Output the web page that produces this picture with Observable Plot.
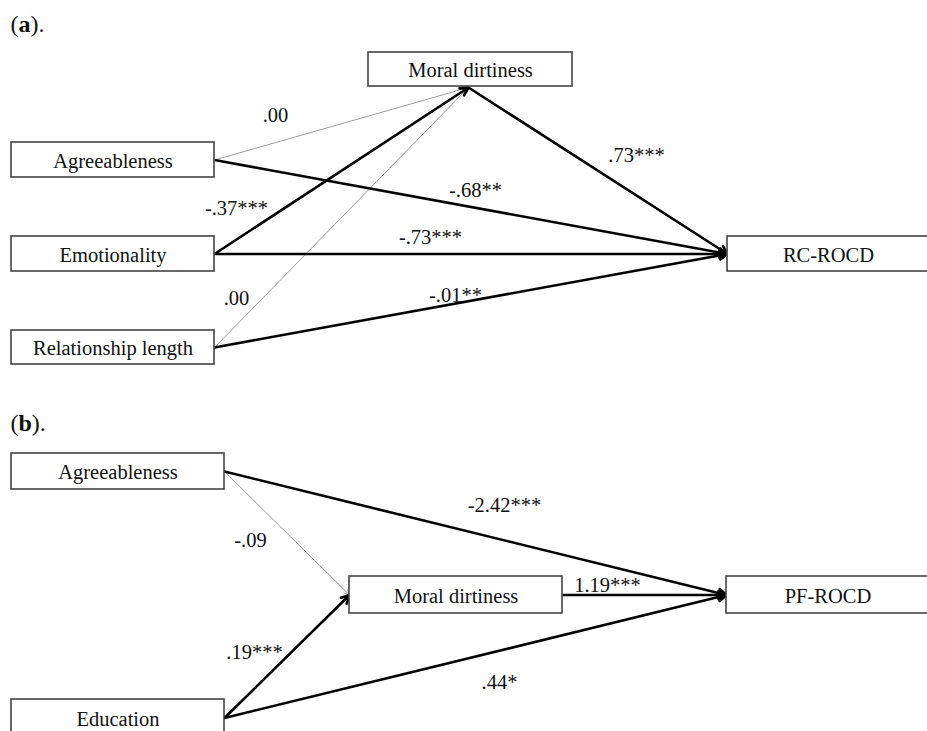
<!DOCTYPE html>
<html><head><meta charset="utf-8">
<script src="https://cdn.jsdelivr.net/npm/d3@7"></script>
<script src="https://cdn.jsdelivr.net/npm/@observablehq/plot@0.6"></script>
<style>html,body{margin:0;padding:0;background:#fff;overflow:hidden}</style>
</head><body><div id="chart"></div>
<script>
// ---- data ----
const panelTitles = ["(a).", "(b)."];
const nodeIds    = ["a_agr","a_emo","a_rel","a_md","a_rc","b_agr","b_edu","b_md","b_pf"];
const nodeLabels = ["Agreeableness","Emotionality","Relationship length","Moral dirtiness","RC-ROCD",
                    "Agreeableness","Education","Moral dirtiness","PF-ROCD"];
const edgeFrom = ["a_agr","a_agr","a_emo","a_emo","a_rel","a_rel","a_md","b_agr","b_agr","b_edu","b_edu","b_md"];
const edgeTo   = ["a_md","a_rc","a_md","a_rc","a_md","a_rc","a_rc","b_md","b_pf","b_md","b_pf","b_pf"];
const edgeCoef = [".00","-.68**","-.37***","-.73***",".00","-.01**",".73***","-.09","-2.42***",".19***",".44*","1.19***"];
const edgeSignificant = [false,true,true,true,false,true,true,false,true,true,true,true];

// ---- layout (diagram coordinates) ----
const nodeBox = { // [x1, y1, x2, y2]
  a_agr:[11,142,214,177], a_emo:[11,236,214,271], a_rel:[11,330,214,364],
  a_md:[368,52,572,86],   a_rc:[727,236,929,271],
  b_agr:[11,453,224,489], b_edu:[11,699,224,736],
  b_md:[349,576,562,613], b_pf:[726,576,929,613]
};
const topNodes = ["a_md"]; // edges attach to the bottom-centre of these
const titlePos = [[10,24],[10,423]];
const labelPos = [[275,115],[475,190],[236,208],[430,237],[236,298],[455,295],[636,155],
                  [250,540],[504,505],[254,652],[499,682],[607,585]];

const nodes = nodeIds.map((id,i)=>{const b=nodeBox[id];return {id,label:nodeLabels[i],x1:b[0],y1:b[1],x2:b[2],y2:b[3]};});
const byId = Object.fromEntries(nodes.map(n=>[n.id,n]));
function srcPt(n){ return topNodes.includes(n.id) ? [(n.x1+n.x2)/2-2, n.y2+1] : [n.x2, (n.y1+n.y2)/2]; }
function dstPt(n){ return topNodes.includes(n.id) ? [(n.x1+n.x2)/2-2, n.y2+1] : [n.x1, (n.y1+n.y2)/2]; }
const edges = edgeFrom.map((f,i)=>{
  const s=srcPt(byId[f]), t=dstPt(byId[edgeTo[i]]);
  return {x1:s[0],y1:s[1],x2:t[0],y2:t[1],coef:edgeCoef[i],sig:edgeSignificant[i],lx:labelPos[i][0],ly:labelPos[i][1]};
});
const titles = panelTitles.map((t,i)=>({t,x:titlePos[i][0],y:titlePos[i][1]}));

const font = "'Liberation Serif','Times New Roman',serif";
const svg = Plot.plot({
  width:927, height:731, margin:0,
  x:{domain:[0,927], range:[0,927], axis:null},
  y:{domain:[0,731], range:[0,731], axis:null},
  style:{background:"#fff", fontFamily:font},
  marks:[
    Plot.arrow(edges.filter(d=>!d.sig), {x1:"x1",y1:"y1",x2:"x2",y2:"y2", stroke:"#9a9a9a", strokeWidth:1, headLength:8, headAngle:50}),
    Plot.arrow(edges.filter(d=>d.sig), {x1:"x1",y1:"y1",x2:"x2",y2:"y2", stroke:"#000", strokeWidth:2.6, headLength:5.2, headAngle:55}),
    Plot.rect(nodes, {x1:"x1",x2:"x2",y1:"y1",y2:"y2", fill:"#fff", stroke:"#444", strokeWidth:1.6}),
    Plot.text(nodes, {x:d=>(d.x1+d.x2)/2, y:d=>(d.y1+d.y2)/2+1, text:"label", fontSize:20.5, fill:"#111", fontFamily:font}),
    Plot.text(edges, {x:"lx", y:"ly", text:"coef", fontSize:20.5, fill:"#111", fontFamily:font}),
    Plot.text(titles, {x:"x", y:"y", text:"t", textAnchor:"start", fontSize:24, fill:"#111", fontFamily:font})
  ]
});
svg.querySelectorAll("text").forEach(t=>{
  const s=t.textContent;
  if (panelTitles.includes(s)) {
    t.textContent="";
    const ns="http://www.w3.org/2000/svg";
    const a=document.createElementNS(ns,"tspan"); a.textContent=s.slice(0,1);
    const b=document.createElementNS(ns,"tspan"); b.textContent=s.slice(1,2); b.setAttribute("font-weight","bold");
    const c=document.createElementNS(ns,"tspan"); c.textContent=s.slice(2);
    t.append(a,b,c);
  }
});
document.getElementById("chart").append(svg);
</script>
</body></html>
